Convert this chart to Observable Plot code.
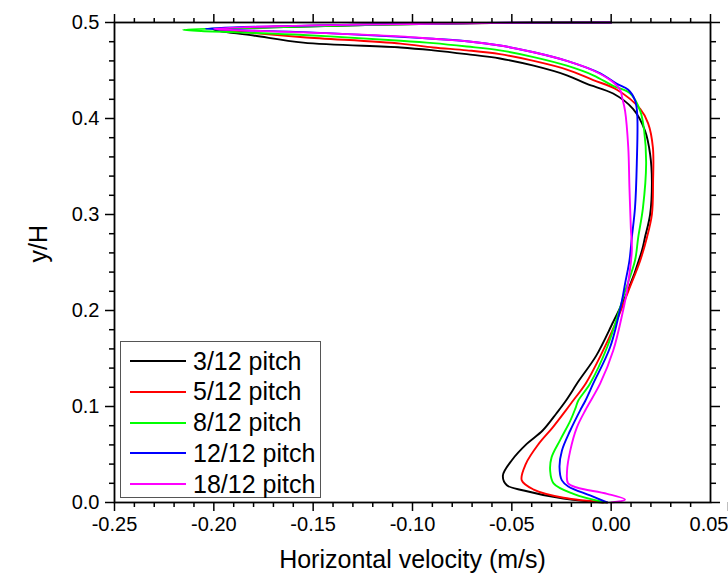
<!DOCTYPE html>
<html>
<head>
<meta charset="utf-8">
<script src="https://cdn.jsdelivr.net/npm/d3@7"></script>
<script src="https://cdn.jsdelivr.net/npm/@observablehq/plot@0.6"></script>
<style>
  body { margin: 0; background: #fff; }
  #wrap { position: relative; width: 728px; height: 580px; font-family: "Liberation Sans", Arial, sans-serif; }
  #legend { position: absolute; left: 120px; top: 341px; width: 199px; height: 155px; border: 1.5px solid #555; background: #fff; }
  .row { position: absolute; left: 0; height: 30px; display: flex; align-items: center; }
  .row svg { margin-left: 9px; }
  .row span { margin-left: 7px; font-size: 25px; color: #000; }
</style>
</head>
<body>
<div id="wrap"></div>
<script>
const seriesNames = ["3/12 pitch", "5/12 pitch", "8/12 pitch", "12/12 pitch", "18/12 pitch"];
const seriesColors = ["#000000", "#ff0000", "#00ff00", "#0000ff", "#ff00ff"];

const xMajor = [-0.25, -0.20, -0.15, -0.10, -0.05, 0.00];
const xLast = [0.05];
const yMajor = [0.0, 0.1, 0.2, 0.3, 0.4, 0.5];

// 3/12 pitch
const p3_y = [0.000, 0.004, 0.0125, 0.018, 0.028, 0.044, 0.061, 0.075, 0.093, 0.106, 0.127, 0.153, 0.188, 0.218, 0.2625, 0.276, 0.300, 0.335, 0.363, 0.3875, 0.410, 0.426, 0.436, 0.445, 0.455, 0.4625, 0.467, 0.471, 0.474, 0.479, 0.4865, 0.4925, 0.495, 0.4975, 0.4995, 0.500];
const p3_v = [-0.004, -0.024, -0.044, -0.0525, -0.0545, -0.050, -0.0425, -0.0345, -0.0275, -0.0228, -0.0162, -0.0075, 0.001, 0.0079, 0.0155, 0.017, 0.0196, 0.0205, 0.0196, 0.017, 0.011, 0.001, -0.0122, -0.0223, -0.039, -0.056, -0.0727, -0.0896, -0.106, -0.155, -0.180, -0.200, -0.170, -0.120, -0.060, 0.000];
// 5/12 pitch
const p5_y = [0.000, 0.005, 0.0135, 0.023, 0.040, 0.061, 0.078, 0.096, 0.106, 0.124, 0.153, 0.190, 0.220, 0.252, 0.276, 0.300, 0.335, 0.370, 0.395, 0.410, 0.430, 0.440, 0.451, 0.460, 0.467, 0.471, 0.474, 0.478, 0.4847, 0.489, 0.4925, 0.4955, 0.498, 0.4995, 0.500];
const p5_v = [-0.002, -0.024, -0.039, -0.045, -0.043, -0.0365, -0.0295, -0.0228, -0.0192, -0.0128, -0.0053, 0.0029, 0.0086, 0.0146, 0.018, 0.0205, 0.0211, 0.021, 0.0186, 0.0146, 0.0029, -0.009, -0.0223, -0.039, -0.056, -0.0727, -0.0896, -0.106, -0.155, -0.180, -0.197, -0.170, -0.120, -0.060, 0.000];
// 8/12 pitch
const p8_y = [0.000, 0.009, 0.020, 0.033, 0.047, 0.065, 0.085, 0.098, 0.106, 0.124, 0.162, 0.203, 0.220, 0.252, 0.276, 0.307, 0.353, 0.3875, 0.408, 0.426, 0.434, 0.445, 0.455, 0.464, 0.471, 0.475, 0.4785, 0.481, 0.487, 0.4924, 0.4945, 0.497, 0.4993, 0.500];
const p8_v = [-0.003, -0.019, -0.029, -0.0307, -0.030, -0.0257, -0.0206, -0.018, -0.0166, -0.0106, -0.002, 0.0045, 0.007, 0.012, 0.0136, 0.016, 0.0176, 0.0166, 0.0146, 0.0096, 0.001, -0.009, -0.0223, -0.039, -0.056, -0.0727, -0.0896, -0.106, -0.155, -0.2155, -0.180, -0.130, -0.070, 0.000];
// 12/12 pitch
const p12_y = [0.000, 0.0073, 0.0167, 0.023, 0.037, 0.054, 0.075, 0.096, 0.106, 0.124, 0.162, 0.210, 0.228, 0.252, 0.276, 0.307, 0.353, 0.405, 0.419, 0.430, 0.436, 0.447, 0.460, 0.469, 0.476, 0.4805, 0.483, 0.485, 0.490, 0.4934, 0.496, 0.4985, 0.4997, 0.500];
const p12_v = [-0.002, -0.0106, -0.0216, -0.0248, -0.026, -0.0248, -0.0206, -0.0156, -0.013, -0.009, -0.0005, 0.0054, 0.007, 0.0092, 0.0104, 0.012, 0.0129, 0.0131, 0.012, 0.0086, 0.0029, -0.0055, -0.0223, -0.039, -0.056, -0.0727, -0.0896, -0.106, -0.155, -0.204, -0.170, -0.110, -0.050, 0.000];
// 18/12 pitch
const p18_y = [0.000, 0.003, 0.009, 0.0156, 0.020, 0.033, 0.054, 0.078, 0.098, 0.124, 0.158, 0.200, 0.220, 0.2625, 0.286, 0.328, 0.370, 0.408, 0.422, 0.430, 0.440, 0.450, 0.460, 0.469, 0.476, 0.4805, 0.483, 0.4855, 0.4897, 0.4935, 0.4965, 0.4985, 0.4997, 0.500];
const p18_v = [0.000, 0.007, -0.002, -0.0173, -0.0217, -0.0222, -0.0206, -0.0173, -0.0125, -0.0055, 0.001, 0.006, 0.0079, 0.0104, 0.0099, 0.0092, 0.0086, 0.007, 0.0055, 0.0045, -0.0005, -0.009, -0.0223, -0.039, -0.056, -0.0727, -0.0896, -0.106, -0.155, -0.200, -0.160, -0.100, -0.050, 0.000];

const ys = [p3_y, p5_y, p8_y, p12_y, p18_y];
const vs = [p3_v, p5_v, p8_v, p12_v, p18_v];
const rows = [];
seriesNames.forEach((name, i) => {
  ys[i].forEach((y, j) => rows.push({series: name, y, v: vs[i][j]}));
});

const allXMajor = xMajor.concat(xLast);
const xMinor = d3.range(-25, 6).map(d => d / 100).filter(d => !allXMajor.some(m => Math.abs(m - d) < 1e-9));
const yMinor = d3.range(0, 26).map(d => d / 50).filter(d => !yMajor.some(m => Math.abs(m - d) < 1e-9));

const blank = () => "";
const fmt2 = d => d.toFixed(2);
const chart = Plot.plot({
  width: 728,
  height: 580,
  marginLeft: 114,
  marginRight: 18,
  marginTop: 22,
  marginBottom: 78,
  style: {fontFamily: "'Liberation Sans', Arial, sans-serif", fontSize: "20px", color: "#000", background: "#fff"},
  x: {domain: [-0.25, 0.05]},
  y: {domain: [0, 0.5]},
  color: {domain: seriesNames, range: seriesColors},
  marks: [
    Plot.line(rows, {x: "v", y: "y", z: "series", stroke: "series", strokeWidth: 1.9, curve: "catmull-rom"}),
    Plot.frame({stroke: "#000", strokeWidth: 1.8}),
    Plot.axisX({anchor: "bottom", ticks: xMajor, tickSize: 9, tickPadding: 5, strokeWidth: 1.5, tickFormat: fmt2, label: null, fontSize: 20}),
    Plot.axisX({anchor: "bottom", ticks: xLast, tickSize: 9, tickPadding: 5, strokeWidth: 1.5, tickFormat: fmt2, label: null, fontSize: 20, textAnchor: "end", dx: 18}),
    Plot.axisX({anchor: "bottom", ticks: xMinor, tickSize: 5, strokeWidth: 1.5, tickFormat: blank, label: null}),
    Plot.axisX({anchor: "top", ticks: allXMajor, tickSize: 9, strokeWidth: 1.5, tickFormat: blank, label: null}),
    Plot.axisX({anchor: "top", ticks: xMinor, tickSize: 5, strokeWidth: 1.5, tickFormat: blank, label: null}),
    Plot.axisY({anchor: "left", ticks: yMajor, tickSize: 9, tickPadding: 6, strokeWidth: 1.5, tickFormat: d => d.toFixed(1), label: null, fontSize: 20}),
    Plot.axisY({anchor: "left", ticks: yMinor, tickSize: 5, strokeWidth: 1.5, tickFormat: blank, label: null}),
    Plot.axisY({anchor: "right", ticks: yMajor, tickSize: 9, strokeWidth: 1.5, tickFormat: blank, label: null}),
    Plot.axisY({anchor: "right", ticks: yMinor, tickSize: 5, strokeWidth: 1.5, tickFormat: blank, label: null}),
    Plot.text(["Horizontal velocity (m/s)"], {frameAnchor: "bottom", dy: 57, lineAnchor: "middle", fontSize: 25, fill: "#000"}),
    Plot.text(["y/H"], {frameAnchor: "left", dx: -76, rotate: -90, lineAnchor: "middle", fontSize: 25, fill: "#000"})
  ]
});

const wrap = document.getElementById("wrap");
wrap.appendChild(chart);

const legend = document.createElement("div");
legend.id = "legend";
seriesNames.forEach((name, i) => {
  const row = document.createElement("div");
  row.className = "row";
  row.style.top = (4 + i * 30.75) + "px";
  row.innerHTML = `<svg width="56" height="4"><line x1="0" y1="2" x2="56" y2="2" stroke="${seriesColors[i]}" stroke-width="2"/></svg><span>${name}</span>`;
  legend.appendChild(row);
});
wrap.appendChild(legend);
</script>
</body>
</html>
